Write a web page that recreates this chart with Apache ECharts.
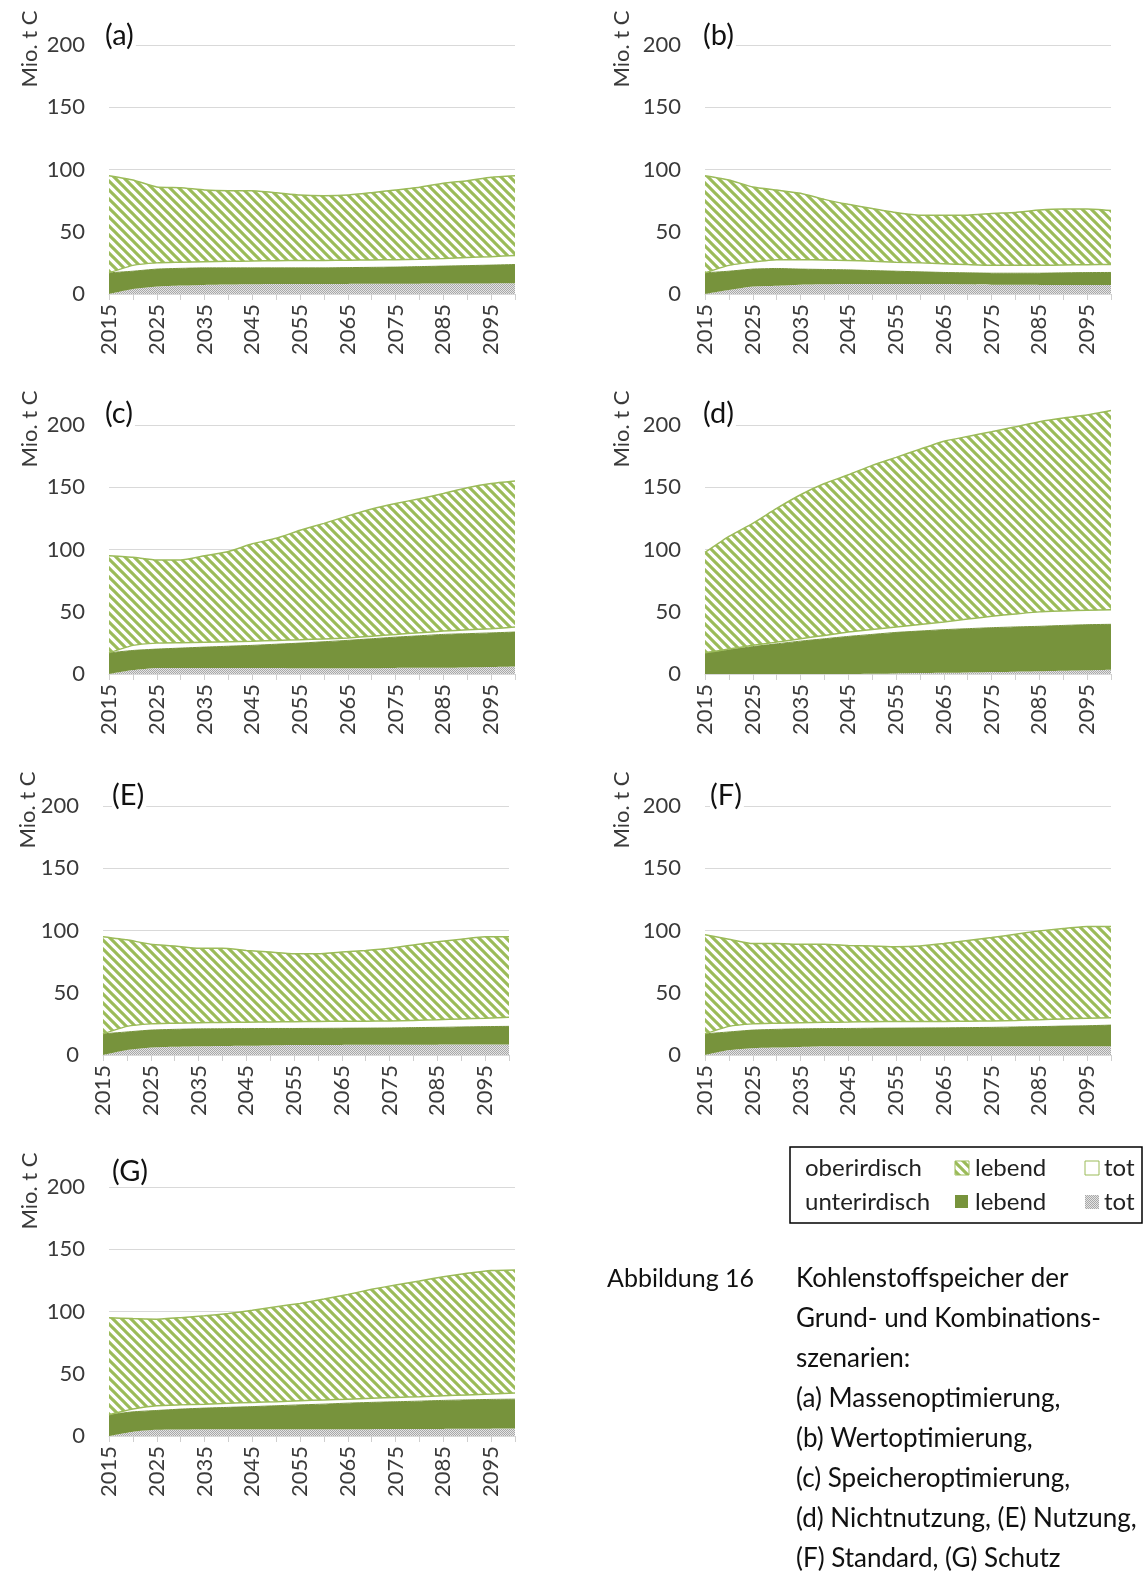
<!DOCTYPE html>
<html>
<head>
<meta charset="utf-8">
<script src="https://cdn.jsdelivr.net/npm/echarts@6/dist/echarts.min.js"></script>
<style>
  html, body { margin: 0; padding: 0; background: #fff; }
  #chart { width: 1143px; height: 1573px; }
</style>
</head>
<body>
<div id="chart"></div>
<script>
  // Jahre (5-Jahres-Schritte), Beschriftung nur alle 10 Jahre
  const years = ['2015', '2020', '2025', '2030', '2035', '2040', '2045', '2050', '2055',
                 '2060', '2065', '2070', '2075', '2080', '2085', '2090', '2095', '2100'];
  const yMin = 0, yMax = 200, yStep = 50;

  // (a) Massenoptimierung
  const aUntTot  = [0, 4, 6, 6.8, 7.3, 7.6, 7.8, 8, 8, 8, 8.1, 8.2, 8.2, 8.3, 8.4, 8.5, 8.5, 8.6];
  const aUntLeb  = [17, 14.3, 14, 13.8, 13.7, 13.4, 13.2, 13, 13, 13, 13.1, 13.2, 13.4, 13.7, 14, 14.3, 14.7, 15.1];
  const aOberTot = [0, 4.7, 5, 4.9, 5, 5.3, 5.5, 5.8, 6, 6, 6, 6, 6, 6, 6.2, 6.5, 6.8, 7.3];
  const aOberLeb = [78, 68.6, 61, 59.9, 57.5, 56.7, 56.5, 54.6, 52.5, 52, 52.3, 54, 55.9, 57.7, 60.4, 61.7, 63.8, 64];

  // (b) Wertoptimierung
  const bUntTot  = [0, 3.2, 6, 6.7, 7.5, 7.8, 8, 8, 8, 8, 8, 7.8, 7.5, 7.4, 7.3, 7.3, 7.3, 7.3];
  const bUntLeb  = [17, 15.1, 14, 13.8, 12.5, 11.9, 11.4, 10.8, 10.3, 9.8, 9.3, 9.2, 9.2, 9.3, 9.4, 9.7, 9.9, 10];
  const bOberTot = [0, 4.7, 5.6, 7, 7.5, 7.6, 7.6, 7.5, 7.3, 7.2, 7, 6.6, 6.3, 6.3, 6.3, 6.3, 6.3, 6.4];
  const bOberLeb = [78, 68.6, 60.4, 56, 53.5, 48.7, 45, 42.4, 39.9, 38.3, 39, 39.7, 41.7, 42.5, 44.4, 44.9, 44.7, 43.3];

  // (c) Speicheroptimierung
  const cUntTot  = [0, 3.2, 4.9, 4.9, 4.9, 4.9, 4.9, 4.8, 4.6, 4.6, 4.6, 4.7, 4.9, 5, 5.1, 5.3, 5.6, 6];
  const cUntLeb  = [17, 15.7, 15.1, 15.9, 16.7, 17.4, 18.1, 19.1, 20.2, 21.3, 22.4, 23.6, 24.7, 25.7, 26.7, 27.1, 27.4, 27.7];
  const cOberTot = [0, 4.1, 4.8, 4.4, 4, 3.7, 3.4, 3.1, 2.7, 2.3, 2, 2.1, 2.2, 2.4, 2.7, 3.1, 3.4, 4];
  const cOberLeb = [78, 70.8, 66.8, 66.4, 69.4, 72.4, 78.2, 82, 87.9, 92.8, 98, 102.2, 105.2, 107.6, 110.5, 114.1, 116.6, 117.3];

  // (d) Nichtnutzung
  const dUntTot  = [0, 0, 0, 0, 0, 0, 0, 0.2, 0.5, 0.8, 1, 1.3, 1.6, 1.9, 2.2, 2.6, 3, 3.4];
  const dUntLeb  = [17, 19.4, 22, 24.2, 26.4, 28.3, 30.2, 31.6, 32.9, 33.7, 34.6, 35.1, 35.6, 35.9, 36.1, 36.4, 36.6, 36.5];
  const dOberTot = [0, 0.6, 1, 1.4, 1.9, 2.7, 3.5, 3.9, 4.3, 5.3, 6.2, 7.7, 9.2, 10.4, 11.6, 11.6, 11.6, 11.8];
  const dOberLeb = [80.6, 90.5, 98, 107.4, 115.7, 122, 126.3, 131.9, 136.3, 140.8, 145.2, 146.7, 148.2, 150.4, 152.8, 155.1, 156.8, 159.9];

  // (E) Nutzung
  const eUntTot  = [0, 4, 6, 6.6, 7, 7.3, 7.5, 7.7, 8, 8, 8.1, 8.2, 8.2, 8.3, 8.3, 8.4, 8.5, 8.5];
  const eUntLeb  = [17, 14.5, 14, 14, 14, 13.8, 13.7, 13.6, 13.3, 13.4, 13.4, 13.4, 13.5, 13.7, 13.9, 14.1, 14.3, 14.5];
  const eOberTot = [0, 4.5, 5, 4.9, 5, 5.1, 5.2, 5.3, 5.5, 5.6, 5.6, 5.6, 5.6, 5.8, 6.1, 6.5, 6.8, 7.3];
  const eOberLeb = [78, 69.5, 64, 62.1, 59.7, 59.5, 57.6, 56.1, 54.6, 54.4, 55.6, 56.8, 58.4, 60.6, 62.7, 64, 65.3, 64.6];

  // (F) Standard
  const fUntTot  = [0, 4, 5.5, 6, 6.5, 7, 7, 7, 7, 7, 7, 7, 7, 7, 7, 7, 7, 7];
  const fUntLeb  = [17, 14.5, 14.5, 14.6, 14.5, 14.2, 14.3, 14.5, 14.6, 14.7, 14.8, 15, 15.2, 15.5, 15.8, 16.2, 16.5, 17];
  const fOberTot = [0, 4.5, 5, 4.9, 5, 5.1, 5.2, 5.3, 5.4, 5.3, 5.2, 5.2, 5.2, 5.3, 5.5, 5.8, 6.1, 6];
  const fOberLeb = [79.5, 70, 64.5, 64, 63, 62.7, 61.5, 60.8, 60, 60.6, 62.5, 64.8, 66.9, 69.2, 71.4, 72.6, 73.6, 73.2];

  // (G) Schutz
  const gUntTot  = [0, 3.5, 5, 5.2, 5.4, 5.4, 5.4, 5.4, 5.4, 5.4, 5.5, 5.5, 5.6, 5.6, 5.7, 5.8, 5.9, 6];
  const gUntLeb  = [17, 15.9, 15.5, 16.4, 17, 17.6, 18.2, 18.9, 19.6, 20.2, 20.9, 21.5, 21.9, 22.4, 22.9, 23.2, 23.5, 23.6];
  const gOberTot = [0, 2.2, 3.8, 3.4, 3.2, 3.3, 3.4, 3.3, 3.3, 3.4, 3.2, 3.3, 3.5, 3.6, 3.7, 4, 4.3, 4.9];
  const gOberLeb = [78, 72.7, 69.5, 70, 70.9, 72.1, 74, 76.2, 78.2, 81, 84.1, 87.5, 90.3, 92.9, 95.7, 97.7, 99.2, 98.9];

  const panelData = [
    ['(a)', aUntTot, aUntLeb, aOberTot, aOberLeb],
    ['(b)', bUntTot, bUntLeb, bOberTot, bOberLeb],
    ['(c)', cUntTot, cUntLeb, cOberTot, cOberLeb],
    ['(d)', dUntTot, dUntLeb, dOberTot, dOberLeb],
    ['(E)', eUntTot, eUntLeb, eOberTot, eOberLeb],
    ['(F)', fUntTot, fUntLeb, fOberTot, fOberLeb],
    ['(G)', gUntTot, gUntLeb, gOberTot, gOberLeb]
  ];

  // Lage der Teilgrafiken (Pixel)
  const layout = [
    { left: 109, top: 45,   lx: -4, ly: -9,  mx: -79 },
    { left: 705, top: 45,   lx: -2, ly: -9,  mx: -83 },
    { left: 109, top: 425,  lx: -4, ly: -11, mx: -79 },
    { left: 705, top: 425,  lx: -2, ly: -11, mx: -83 },
    { left: 103, top: 806,  lx: 9,  ly: -10, mx: -75 },
    { left: 705, top: 806,  lx: 5,  ly: -10, mx: -83 },
    { left: 109, top: 1187, lx: 3,  ly: -15, mx: -79 }
  ];
  const plotW = 406, plotH = 249;

  const FONT = 'Lato, "Noto Sans", sans-serif';
  const lightGreen = '#9bbb59';
  const darkGreen = '#77933c';

  function hatchCanvas() {
    const s = 9;
    const c = document.createElement('canvas');
    c.width = s; c.height = s;
    const g = c.getContext('2d');
    g.fillStyle = '#fff';
    g.fillRect(0, 0, s, s);
    g.strokeStyle = lightGreen;
    g.lineWidth = 3.1;
    [-s, 0, s].forEach(function (k) {
      g.beginPath();
      g.moveTo(-2, k - 2);
      g.lineTo(s + 2, k + s + 2);
      g.stroke();
    });
    return c;
  }

  function dotCanvas() {
    const c = document.createElement('canvas');
    c.width = 4; c.height = 4;
    const g = c.getContext('2d');
    g.fillStyle = '#e4e4e4';
    g.fillRect(0, 0, 4, 4);
    g.fillStyle = '#a8a8a8';
    for (let x = 0; x < 4; x++) {
      for (let y = 0; y < 4; y++) {
        if ((x + y) % 2 === 0) g.fillRect(x, y, 1, 1);
      }
    }
    return c;
  }

  const hatchFill = { image: hatchCanvas(), repeat: 'repeat' };
  const dotFill = { image: dotCanvas(), repeat: 'repeat' };

  const grids = [], xAxes = [], yAxes = [], series = [], graphics = [];

  panelData.forEach(function (p, i) {
    const L = layout[i];
    grids.push({ left: L.left, top: L.top, width: plotW, height: plotH });
    xAxes.push({
      gridIndex: i,
      type: 'category',
      data: years,
      boundaryGap: false,
      axisLine: { lineStyle: { color: '#d9d9d9', width: 1 } },
      axisTick: { show: true, interval: 0, length: 6, lineStyle: { color: '#cfcfcf' } },
      axisLabel: { interval: 1, rotate: 90, margin: 10, fontSize: 22, color: '#3a3a3a', fontFamily: FONT },
      splitLine: { show: false }
    });
    yAxes.push({
      gridIndex: i,
      type: 'value',
      min: yMin, max: yMax, interval: yStep,
      axisLine: { show: false },
      axisTick: { show: false },
      axisLabel: { margin: 24, fontSize: 22, color: '#3a3a3a', fontFamily: FONT },
      splitLine: { lineStyle: { color: '#d9d9d9', width: 1 } }
    });

    const base = { type: 'line', xAxisIndex: i, yAxisIndex: i, stack: 'p' + i,
                   symbol: 'none', clip: false, smooth: 0.15 };
    series.push(Object.assign({}, base, {
      name: 'unterirdisch tot', data: p[1],
      lineStyle: { width: 0, opacity: 0 },
      areaStyle: { color: dotFill, opacity: 1 }
    }));
    series.push(Object.assign({}, base, {
      name: 'unterirdisch lebend', data: p[2],
      lineStyle: { width: 1, color: darkGreen },
      areaStyle: { color: darkGreen, opacity: 1 }
    }));
    series.push(Object.assign({}, base, {
      name: 'oberirdisch tot', data: p[3],
      lineStyle: { width: 1.5, color: lightGreen },
      areaStyle: { color: '#ffffff', opacity: 1 }
    }));
    series.push(Object.assign({}, base, {
      name: 'oberirdisch lebend', data: p[4],
      lineStyle: { width: 1.5, color: lightGreen },
      areaStyle: { color: hatchFill, opacity: 1 }
    }));

    // Teilbild-Buchstabe mit weissem Hintergrund (verdeckt die 200er Linie)
    graphics.push({
      type: 'text', z: 20,
      x: L.left + L.lx, y: L.top + L.ly,
      style: { text: p[0], font: '29px ' + FONT, fill: '#111', textAlign: 'left',
               textVerticalAlign: 'middle', backgroundColor: '#fff', padding: [0, 2, 0, 0] }
    });
    // Achsentitel
    graphics.push({
      type: 'text', z: 20,
      x: L.left + L.mx, y: L.top + 4, rotation: Math.PI / 2,
      style: { text: 'Mio. t C', font: '22px ' + FONT, fill: '#3a3a3a',
               textAlign: 'center', textVerticalAlign: 'middle' }
    });
  });

  // Legende
  const lx0 = 790, ly0 = 1147;
  graphics.push({ type: 'rect', z: 20, shape: { x: lx0, y: ly0, width: 352, height: 76 },
                  style: { fill: '#fff', stroke: '#000', lineWidth: 1.5 } });
  const legText = function (t, x, y) {
    return { type: 'text', z: 21, x: x, y: y,
             style: { text: t, font: '24px ' + FONT, fill: '#222', textVerticalAlign: 'middle' } };
  };
  graphics.push(legText('oberirdisch', 805, 1168));
  graphics.push(legText('unterirdisch', 805, 1202));
  graphics.push({ type: 'rect', z: 21, shape: { x: 955, y: 1161, width: 14, height: 14 },
                  style: { fill: hatchFill, stroke: lightGreen, lineWidth: 1 } });
  graphics.push(legText('lebend', 975, 1168));
  graphics.push({ type: 'rect', z: 21, shape: { x: 1085, y: 1161, width: 14, height: 14 },
                  style: { fill: '#fff', stroke: lightGreen, lineWidth: 1 } });
  graphics.push(legText('tot', 1104, 1168));
  graphics.push({ type: 'rect', z: 21, shape: { x: 955, y: 1195, width: 13, height: 13 },
                  style: { fill: darkGreen } });
  graphics.push(legText('lebend', 975, 1202));
  graphics.push({ type: 'rect', z: 21, shape: { x: 1085, y: 1195, width: 14, height: 14 },
                  style: { fill: dotFill } });
  graphics.push(legText('tot', 1104, 1202));

  // Bildunterschrift
  const capLines = ['Kohlenstoffspeicher der', 'Grund- und Kombinations-', 'szenarien:',
                    '(a) Massenoptimierung,', '(b) Wertoptimierung,', '(c) Speicheroptimierung,',
                    '(d) Nichtnutzung, (E) Nutzung,', '(F) Standard, (G) Schutz'];
  graphics.push({ type: 'text', z: 20, x: 607, y: 1279,
                  style: { text: 'Abbildung 16', font: '25px ' + FONT, fill: '#111', textVerticalAlign: 'middle' } });
  capLines.forEach(function (t, k) {
    graphics.push({ type: 'text', z: 20, x: 796, y: 1279 + k * 40,
                    style: { text: t, font: '26px ' + FONT, fill: '#111', textVerticalAlign: 'middle' } });
  });

  const chart = echarts.init(document.getElementById('chart'));
  chart.setOption({
    animation: false,
    backgroundColor: '#fff',
    grid: grids,
    xAxis: xAxes,
    yAxis: yAxes,
    series: series,
    graphic: graphics
  });
</script>
</body>
</html>
